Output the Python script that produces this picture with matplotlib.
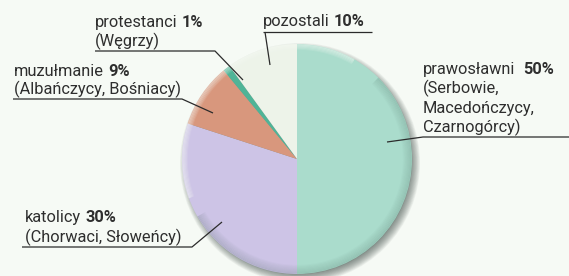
import matplotlib
matplotlib.use("Agg")
import matplotlib.pyplot as plt
from matplotlib.patches import Circle, Arc

# ---- data ----
categories = ["prawosławni", "katolicy", "muzułmanie", "protestanci", "pozostali"]
values = [50, 30, 9, 1, 10]
pct_labels = ["50%", "30%", "9%", "1%", "10%"]
sub_labels = [["(Serbowie,", "Macedończycy,", "Czarnogórcy)"],
              ["(Chorwaci, Słoweńcy)"],
              ["(Albańczycy, Bośniacy)"],
              ["(Węgrzy)"],
              []]
colors = ["#aadccc", "#cdc4e6", "#d8977d", "#4fb497", "#edf3e9"]

W, H = 569, 276
fig = plt.figure(figsize=(W / 100, H / 100), dpi=100)
fig.patch.set_facecolor("#f6faf5")
ax = fig.add_axes([0, 0, 1, 1])

def Y(y):
    return H - y

cx, cy, R = 297, Y(159), 115

# soft shadow towards bottom-right
for k in range(14):
    ax.add_patch(Circle((cx + 3, cy - 4), R + 5 - k * 0.75, color="#2f403b",
                        alpha=0.055, lw=0, zorder=1))

wedges, _ = ax.pie(values, colors=colors, startangle=90, counterclock=False,
                   center=(cx, cy), radius=R, frame=True,
                   wedgeprops=dict(linewidth=0, zorder=2))
ax.set_xlim(0, W)
ax.set_ylim(0, H)
ax.set_axis_off()
ax.set_aspect("auto")

# inner rim darkening on the lower-right side
for k in range(8):
    ax.add_patch(Arc((cx, cy), 2 * (R - 0.5 - k * 1.1), 2 * (R - 0.5 - k * 1.1),
                     theta1=-150, theta2=45, ec="#3d5c52", lw=1.3,
                     alpha=0.12 - k * 0.014, zorder=3))
# faded rim on the upper-left side
for k in range(5):
    ax.add_patch(Arc((cx, cy), 2 * (R - 0.5 - k * 1.1), 2 * (R - 0.5 - k * 1.1),
                     theta1=60, theta2=200, ec="#f6faf5", lw=1.3,
                     alpha=0.35 - k * 0.06, zorder=3))

font = ["Roboto", "DejaVu Sans"]
fs = 11.8
tc = "#2e2e2e"
fig.canvas.draw()
renderer = fig.canvas.get_renderer()

def label(x, y, name, pct, gap=4):
    t = ax.text(x, Y(y), name, fontsize=fs, family=font, color=tc,
                ha="left", va="baseline", zorder=5)
    w = t.get_window_extent(renderer).width
    ax.text(x + w + gap, Y(y), pct, fontsize=fs, family=font, color=tc,
            fontweight="bold", ha="left", va="baseline", zorder=5)

def sub(x, y, s):
    ax.text(x, Y(y), s, fontsize=fs, family=font, color=tc,
            ha="left", va="baseline", zorder=5)

def line(pts):
    xs = [p[0] for p in pts]
    ys = [Y(p[1]) for p in pts]
    ax.plot(xs, ys, color="#2b2b2b", lw=0.9, zorder=4, solid_capstyle="butt")

# protestanci
label(95, 27, categories[3], pct_labels[3])
sub(95, 46, sub_labels[3][0])
line([(95, 51), (215, 51), (243, 80)])

# muzułmanie
label(14, 76, categories[2], pct_labels[2])
sub(14, 94, sub_labels[2][0])
line([(13, 99), (182, 99), (213, 113)])

# pozostali
label(263, 26, categories[4], pct_labels[4])
line([(263, 32), (372, 32)])
line([(265, 32), (270, 65)])

# prawosławni
label(423, 74, categories[0], pct_labels[0], gap=8)
for i, s in enumerate(sub_labels[0]):
    sub(423, 93.5 + i * 19.5, s)
line([(387, 142), (423, 137), (569, 137)])

# katolicy
label(25, 222, categories[1], pct_labels[1])
sub(25, 242, sub_labels[1][0])
line([(22, 247), (192, 247), (222, 222)])

fig.savefig("out.png", dpi=100, facecolor=fig.get_facecolor())
